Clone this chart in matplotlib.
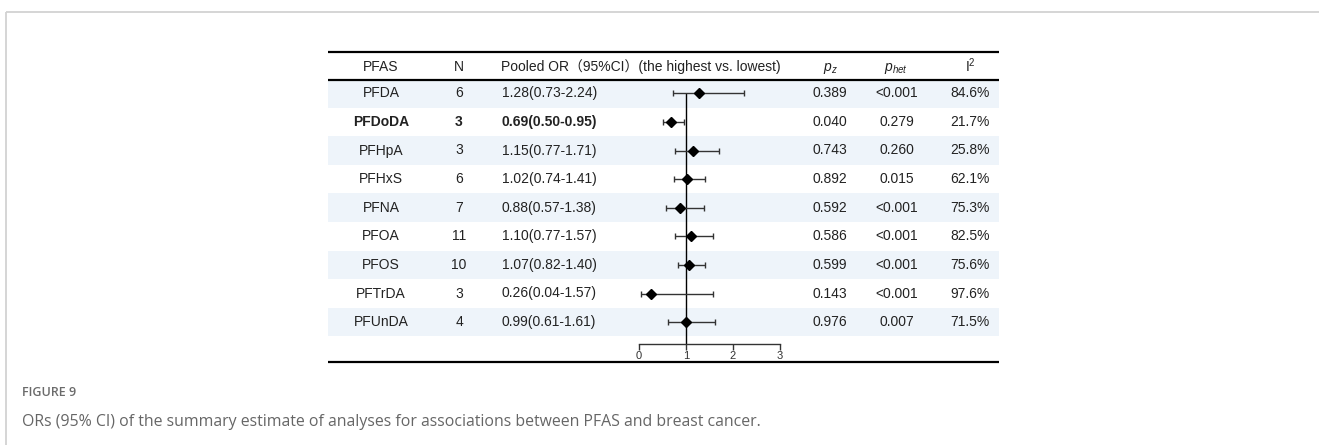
import matplotlib
matplotlib.use("Agg")
import matplotlib.pyplot as plt
from matplotlib.patches import Rectangle
import numpy as np

# ---------------- data ----------------
pfas = ["PFDA", "PFDoDA", "PFHpA", "PFHxS", "PFNA", "PFOA", "PFOS", "PFTrDA", "PFUnDA"]
n_studies = [6, 3, 3, 6, 7, 11, 10, 3, 4]
or_est = [1.28, 0.69, 1.15, 1.02, 0.88, 1.10, 1.07, 0.26, 0.99]
ci_low = [0.73, 0.50, 0.77, 0.74, 0.57, 0.77, 0.82, 0.04, 0.61]
ci_high = [2.24, 0.95, 1.71, 1.41, 1.38, 1.57, 1.40, 1.57, 1.61]
p_z = ["0.389", "0.040", "0.743", "0.892", "0.592", "0.586", "0.599", "0.143", "0.976"]
p_het = ["<0.001", "0.279", "0.260", "0.015", "<0.001", "<0.001", "<0.001", "<0.001", "0.007"]
i2 = ["84.6%", "21.7%", "25.8%", "62.1%", "75.3%", "82.5%", "75.6%", "97.6%", "71.5%"]
bold_rows = ["PFDoDA"]
x_ticks = [0, 1, 2, 3]
caption_label = "FIGURE 9"
caption_text = "ORs (95% CI) of the summary estimate of analyses for associations between PFAS and breast cancer."

plt.rcParams["mathtext.fontset"] = "custom"
plt.rcParams["mathtext.rm"] = "Liberation Sans"
plt.rcParams["mathtext.it"] = "Liberation Sans:italic"

W, H = 1319, 445
fig = plt.figure(figsize=(W / 100, H / 100), dpi=100)
ax = fig.add_axes([0, 0, 1, 1])
ax.set_xlim(0, W)
ax.set_ylim(H, 0)
ax.axis("off")

TXT = "#222222"
FONT = ["Liberation Sans", "Noto Sans CJK SC", "DejaVu Sans"]
FS = 10

# page frame
ax.plot([6, W], [12, 12], color="#d2d2d2", lw=1.3, solid_capstyle="butt")
ax.plot([6, 6], [12, H], color="#d2d2d2", lw=1.3, solid_capstyle="butt")

# table geometry
x_left, x_right = 328, 999
y_top_line, y_head_line, y_bottom_line = 52, 80, 362
y_header = 67
row0, row_h = 93.3, 28.6
row_y = [row0 + i * row_h for i in range(len(pfas))]

col_pfas, col_n, col_or, col_pz, col_phet, col_i2 = 381, 459, 502, 830, 897, 970

# shading
for i, y in enumerate(row_y):
    if i % 2 == 0:
        ax.add_patch(Rectangle((x_left, y - row_h / 2), x_right - x_left, row_h,
                               facecolor="#eef4fa", edgecolor="none", zorder=0))

# rules
for yy in (y_top_line, y_head_line, y_bottom_line):
    ax.plot([x_left, x_right], [yy, yy], color="black", lw=1.6, solid_capstyle="butt", zorder=3)

# header
ax.text(col_pfas, y_header, "PFAS", ha="center", va="center", fontsize=FS, color=TXT, family=FONT)
ax.text(col_n, y_header, "N", ha="center", va="center", fontsize=FS, color=TXT, family=FONT)
ax.text(col_or - 1, y_header, "Pooled OR（95%CI）(the highest vs. lowest)", ha="left", va="center",
        fontsize=FS, color=TXT, family=FONT)
ax.text(col_pz, y_header + 1, r"$p_z$", ha="center", va="center", fontsize=FS, color=TXT)
ax.text(col_phet - 1, y_header + 1, r"$p_{het}$", ha="center", va="center", fontsize=FS, color=TXT)
ax.text(col_i2, y_header - 1, r"I$^2$", ha="center", va="center", fontsize=FS, color=TXT, family=FONT)

# rows
for i, y in enumerate(row_y):
    fw = "bold" if pfas[i] in bold_rows else "normal"
    ax.text(col_pfas, y, pfas[i], ha="center", va="center", fontsize=FS, color=TXT, family=FONT, weight=fw)
    ax.text(col_n, y, str(n_studies[i]), ha="center", va="center", fontsize=FS, color=TXT, family=FONT, weight=fw)
    ax.text(col_or, y, f"{or_est[i]:.2f}({ci_low[i]:.2f}-{ci_high[i]:.2f})", ha="left", va="center",
            fontsize=FS, color=TXT, family=FONT, weight=fw)
    ax.text(col_pz, y, p_z[i], ha="center", va="center", fontsize=FS, color=TXT, family=FONT)
    ax.text(col_phet, y, p_het[i], ha="center", va="center", fontsize=FS, color=TXT, family=FONT)
    ax.text(col_i2, y, i2[i], ha="center", va="center", fontsize=FS, color=TXT, family=FONT)

# forest plot axes
fx0, fx1 = 639, 780
fy_top, fy_axis = 80, 344
fax = fig.add_axes([fx0 / W, 1 - fy_axis / H, (fx1 - fx0) / W, (fy_axis - fy_top) / H])
fax.patch.set_alpha(0)
fax.set_xlim(x_ticks[0], x_ticks[-1])
fax.set_ylim(fy_axis, fy_top)
for s in ("top", "right", "left"):
    fax.spines[s].set_visible(False)
fax.spines["bottom"].set_linewidth(1.0)
fax.spines["bottom"].set_color("#333333")
fax.set_yticks([])
fax.set_xticks(x_ticks)
fax.set_xticklabels([str(t) for t in x_ticks])
fax.tick_params(axis="x", direction="out", length=4, width=1.0, color="#333333",
                labelsize=8, pad=1, labelcolor="#333333")
for lab in fax.get_xticklabels():
    lab.set_family(FONT)

fax.vlines(1, row_y[0], fy_axis, color="black", lw=1.0, zorder=2)
xerr = [np.array(or_est) - np.array(ci_low), np.array(ci_high) - np.array(or_est)]
fax.errorbar(or_est, row_y, xerr=xerr, fmt="D", color="black", ecolor="#333333",
             elinewidth=1.0, capsize=2, capthick=1.0, markersize=5, zorder=3)

# caption
ax.text(22, 393, caption_label, ha="left", va="center", fontsize=9, color="#6b6b6b",
        family=["Open Sans", "DejaVu Sans"], weight="semibold")
ax.text(22, 422, caption_text, ha="left", va="center", fontsize=11.4, color="#666666",
        family=["Open Sans", "DejaVu Sans"])

fig.savefig("out.png", dpi=100)
